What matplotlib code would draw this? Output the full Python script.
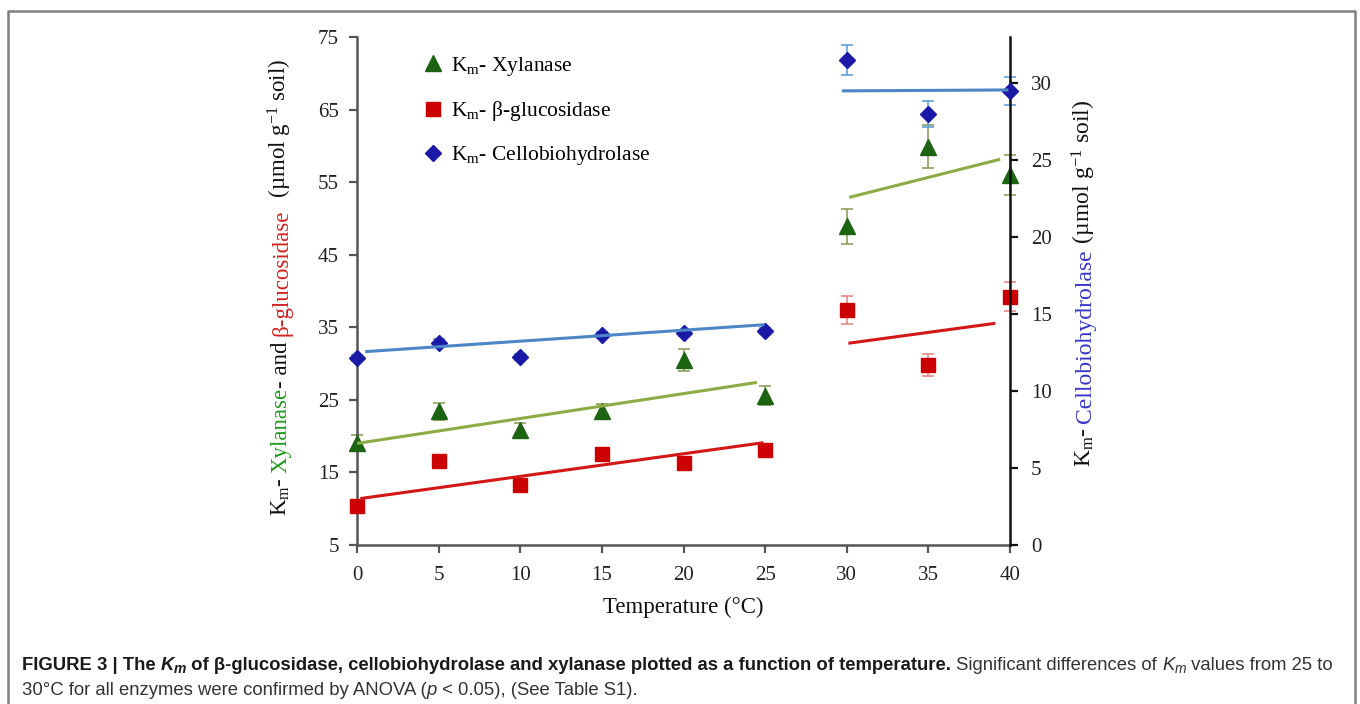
import matplotlib
matplotlib.use('Agg')
import matplotlib.pyplot as plt
from matplotlib.lines import Line2D
from matplotlib.transforms import IdentityTransform

plt.rcParams['font.family'] = ['Liberation Serif', 'DejaVu Serif']
plt.rcParams['mathtext.fontset'] = 'custom'
plt.rcParams['mathtext.rm'] = 'Liberation Serif'
plt.rcParams['mathtext.it'] = 'Liberation Serif:italic'
plt.rcParams['mathtext.bf'] = 'Liberation Serif:bold'

# ---------------- data ----------------
temps = [0, 5, 10, 15, 20, 25, 30, 35, 40]
xylanase = [19.1, 23.4, 20.9, 23.5, 30.5, 25.6, 48.9, 59.9, 56.0]
xylanase_err = [1.0, 1.2, 0.9, 0.9, 1.5, 1.3, 2.45, 3.0, 2.8]
glucosidase = [10.4, 16.6, 13.3, 17.5, 16.3, 18.1, 37.4, 29.8, 39.2]
glucosidase_err = [0.4, 0.4, 0.4, 0.4, 0.4, 0.4, 1.9, 1.55, 2.0]
cellobio = [12.17, 13.15, 12.21, 13.64, 13.75, 13.9, 31.5, 28.0, 29.5]
cellobio_err = [0.2, 0.2, 0.2, 0.2, 0.2, 0.2, 0.95, 0.85, 0.9]

# trend lines (two segments each: low and high temperature range)
xyl_trend_lo_x, xyl_trend_lo_y = [0, 24.5], [19.0, 27.4]
xyl_trend_hi_x, xyl_trend_hi_y = [30.15, 39.4], [52.9, 58.15]
glu_trend_lo_x, glu_trend_lo_y = [0.2, 24.9], [11.4, 19.1]
glu_trend_hi_x, glu_trend_hi_y = [30.1, 39.1], [32.8, 35.55]
cbh_trend_lo_x, cbh_trend_lo_y = [0.5, 24.95], [12.56, 14.31]
cbh_trend_hi_x, cbh_trend_hi_y = [29.7, 39.9], [29.5, 29.56]

x_ticks = [0, 5, 10, 15, 20, 25, 30, 35, 40]
left_ticks = [5, 15, 25, 35, 45, 55, 65, 75]
right_ticks = [0, 5, 10, 15, 20, 25, 30]

# ---------------- styling ----------------
C_XYL = '#1d6412'
C_GLU = '#cc0000'
C_CBH = '#1a1aa6'
C_XYL_LINE = '#8dab45'
C_GLU_LINE = '#d31616'
C_CBH_LINE = '#4d86c6'
C_XYL_ERR = '#8e9f60'
C_GLU_ERR = '#e48a8a'
C_CBH_ERR = '#5f9fdc'

W, H = 1360, 704
fig = plt.figure(figsize=(W / 100, H / 100), dpi=100)


def fx(px):
    return px / W


def fy(py):
    return 1 - py / H


ax = fig.add_axes([fx(357), fy(545), fx(1010) - fx(357), fy(37) - fy(545)])
ax2 = ax.twinx()

ax.set_xlim(0, 40)
ax.set_ylim(5, 75)
ax2.set_ylim(0, 33)

# error bars
ax.errorbar(temps, xylanase, yerr=xylanase_err, fmt='none', ecolor=C_XYL_ERR,
            elinewidth=1.2, capsize=4, capthick=1.2, clip_on=False, zorder=2)
ax.errorbar(temps, glucosidase, yerr=glucosidase_err, fmt='none', ecolor=C_GLU_ERR,
            elinewidth=1.2, capsize=4, capthick=1.2, clip_on=False, zorder=2)
ax2.errorbar(temps, cellobio, yerr=cellobio_err, fmt='none', ecolor=C_CBH_ERR,
             elinewidth=1.2, capsize=4, capthick=1.2, clip_on=False, zorder=2)

# markers
ax.plot(temps, xylanase, linestyle='none', marker='^', ms=12, color=C_XYL,
        mec=C_XYL, clip_on=False, zorder=3)
ax.plot(temps, glucosidase, linestyle='none', marker='s', ms=9.8, color=C_GLU,
        mec=C_GLU, clip_on=False, zorder=3)
ax2.plot(temps, cellobio, linestyle='none', marker='D', ms=8.4, color=C_CBH,
         mec=C_CBH, clip_on=False, zorder=3)

# trend lines
for xs, ys in [(xyl_trend_lo_x, xyl_trend_lo_y), (xyl_trend_hi_x, xyl_trend_hi_y)]:
    ax.plot(xs, ys, color=C_XYL_LINE, lw=2.2, zorder=4, solid_capstyle='butt')
for xs, ys in [(glu_trend_lo_x, glu_trend_lo_y), (glu_trend_hi_x, glu_trend_hi_y)]:
    ax.plot(xs, ys, color=C_GLU_LINE, lw=2.2, zorder=4, solid_capstyle='butt')
for xs, ys in [(cbh_trend_lo_x, cbh_trend_lo_y), (cbh_trend_hi_x, cbh_trend_hi_y)]:
    ax2.plot(xs, ys, color=C_CBH_LINE, lw=2.2, zorder=4, solid_capstyle='butt')

# axes styling
for s in ['top', 'right']:
    ax.spines[s].set_visible(False)
for s in ['top', 'left', 'bottom']:
    ax2.spines[s].set_visible(False)
ax.spines['left'].set_color('#555555')
ax.spines['bottom'].set_color('#555555')
ax.spines['left'].set_linewidth(1.8)
ax.spines['bottom'].set_linewidth(1.8)
ax2.spines['right'].set_color('#111111')
ax2.spines['right'].set_linewidth(1.8)

ax.set_xticks(x_ticks)
ax.set_yticks(left_ticks)
ax2.set_yticks(right_ticks)
ax.tick_params(axis='both', direction='out', length=6, width=1.6, color='#555555',
               labelsize=15, labelcolor='#222222', pad=7)
ax.tick_params(axis='x', pad=9)
ax2.tick_params(axis='y', direction='out', length=6, width=1.6, color='#111111',
                labelsize=15, labelcolor='#222222', pad=9)

# legend
handles = [
    Line2D([], [], linestyle='none', marker='^', ms=11.5, color=C_XYL),
    Line2D([], [], linestyle='none', marker='s', ms=9.5, color=C_GLU),
    Line2D([], [], linestyle='none', marker='D', ms=8, color=C_CBH),
]
labels = [r'K$_\mathrm{m}$- Xylanase', r'K$_\mathrm{m}$- β-glucosidase',
          r'K$_\mathrm{m}$- Cellobiohydrolase']
fig.legend(handles, labels, loc='upper left', bbox_to_anchor=(fx(422), fy(55)),
           frameon=False, fontsize=15.5, handlelength=1.0, handletextpad=0.35,
           labelspacing=0.98, borderpad=0, borderaxespad=0)

# ---------------- text helpers ----------------
renderer = fig.canvas.get_renderer()
IDT = IdentityTransform()


def measure(s, **kw):
    t1 = fig.text(0, 0, s + '|', transform=IDT, **kw)
    t2 = fig.text(0, 0, '|', transform=IDT, **kw)
    w = t1.get_window_extent(renderer).width - t2.get_window_extent(renderer).width
    t1.remove()
    t2.remove()
    return w


def run_text(x, y, pieces, vertical=False):
    """x, y in display pixels (y from bottom)."""
    for s, kw in pieces:
        kw = dict(kw)
        dy = kw.pop('dy', 0)
        w = measure(s, **kw)
        if vertical:
            fig.text(x + dy, y, s, transform=IDT, rotation=90, rotation_mode='anchor',
                     ha='left', va='baseline', **kw)
            y += w
        else:
            fig.text(x, y + dy, s, transform=IDT, ha='left', va='baseline', **kw)
            x += w


def vertical_label(xbase_px, ycenter_px, pieces):
    total = sum(measure(s, **{k: v for k, v in kw.items() if k != 'dy'}) for s, kw in pieces)
    y0 = (H - ycenter_px) - total / 2
    run_text(xbase_px, y0, pieces, vertical=True)


LFS = 16.5
left_pieces = [
    (r'K$_\mathrm{m}$- ', dict(fontsize=LFS, color='#111111')),
    ('Xylanase', dict(fontsize=LFS, color='#1e9a1e')),
    ('- and ', dict(fontsize=LFS, color='#111111')),
    ('β-glucosidase', dict(fontsize=LFS, color='#d42020')),
    (r'  (µmol g$^{-1}$ soil)', dict(fontsize=LFS, color='#111111')),
]
vertical_label(287, 288, left_pieces)

RFS = 17
right_pieces = [
    (r'K$_\mathrm{m}$- ', dict(fontsize=RFS, color='#111111')),
    ('Cellobiohydrolase', dict(fontsize=RFS, color='#3535c8')),
    (r' (µmol g$^{-1}$ soil)', dict(fontsize=RFS, color='#111111')),
]
vertical_label(1091, 284, right_pieces)

fig.text(fx(683), fy(607), 'Temperature (°C)', ha='center', va='center',
         fontsize=16.5, color='#111111')

# ---------------- caption ----------------
CAP = ['Liberation Sans', 'DejaVu Sans']
CFS = 13.3
bold = dict(family=CAP, fontsize=CFS, fontweight='bold', color='#1a1a1a')
boldit = dict(family=CAP, fontsize=CFS, fontweight='bold', fontstyle='italic', color='#1a1a1a')
boldit_sub = dict(family=CAP, fontsize=CFS * 0.75, fontweight='bold', fontstyle='italic',
                  color='#1a1a1a', dy=-3)
reg = dict(family=CAP, fontsize=CFS, color='#333333')
regit = dict(family=CAP, fontsize=CFS, fontstyle='italic', color='#333333')
regit_sub = dict(family=CAP, fontsize=CFS * 0.75, fontstyle='italic', color='#333333', dy=-3)

line1 = [
    ('FIGURE 3 | The ', bold), ('K', boldit), ('m', boldit_sub),
    (' of β-glucosidase, cellobiohydrolase and xylanase plotted as a function of temperature.', bold),
    (' Significant differences of ', reg), ('K', regit), ('m', regit_sub),
    (' values from 25 to', reg),
]
line2 = [
    ('30°C for all enzymes were confirmed by ANOVA (', reg), ('p', regit),
    (' < 0.05), (See Table S1).', reg),
]
run_text(22, H - 670, line1)
run_text(22, H - 695, line2)

# ---------------- border ----------------
fig.add_artist(Line2D([fx(8), fx(8), fx(1355), fx(1355)], [0, fy(11), fy(11), 0],
                      transform=fig.transFigure, color='#808080', lw=1.8))

fig.savefig('out.png', dpi=100)
